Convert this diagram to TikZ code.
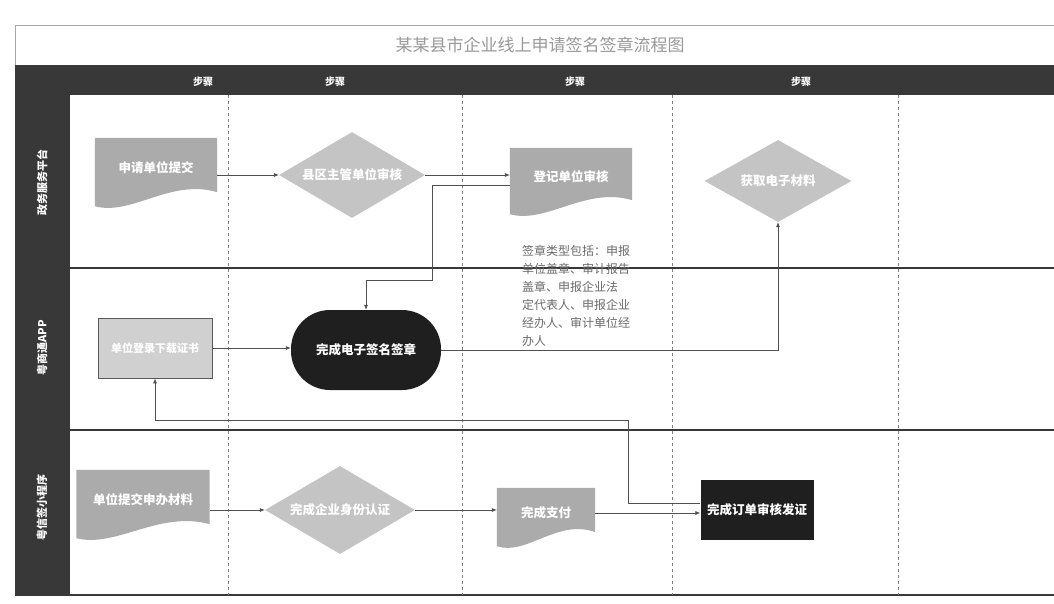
\documentclass[tikz,border=0pt]{standalone}
\usepackage{fontspec}
\setmainfont{Noto Sans CJK SC}
\usetikzlibrary{shapes.geometric,backgrounds,calc,arrows.meta}
\definecolor{bandgray}{HTML}{383838}
\definecolor{docgray}{HTML}{ABABAB}
\definecolor{diagray}{HTML}{C4C4C4}
\definecolor{boxgray}{HTML}{D0D0D0}
\definecolor{inkgray}{HTML}{505050}
\definecolor{notegray}{HTML}{6A6A6A}
% wavy document shape behind a named node
\newcommand{\docfill}[1]{%
  \begin{scope}[on background layer]
  \fill[docgray] (#1.north west) -- (#1.north east) -- ($(#1.south east)+(0,-6)$)
    .. controls ($(#1.south west)!.62!(#1.south east)+(0,-20)$) and ($(#1.south west)!.3!(#1.south east)+(0,18)$) .. ($(#1.south west)+(0,8)$) -- cycle;
  \end{scope}}
\begin{document}
\begin{tikzpicture}[x=1pt,y=-1pt,
  boxtext/.style={text=white, font=\fontsize{12.5}{14}\selectfont\bfseries},
  docbox/.style={boxtext, minimum width=122pt, minimum height=60pt, inner sep=0pt},
  diabox/.style={boxtext, diamond, fill=diagray, minimum width=146pt, minimum height=86pt, aspect=1.7, inner sep=0pt},
  flow/.style={draw=inkgray, line width=0.6pt, -{Latex[length=5pt,width=4pt]}},
  plain/.style={draw=inkgray, line width=0.6pt}]
\useasboundingbox (0,0) rectangle (1054,603);
% frame, header and lanes
\begin{scope}[on background layer]
\draw[gray!70] (15,65) -- (15,25) -- (1054,25);
\fill[bandgray] (15,65) rectangle (1054,95);
\fill[bandgray] (15,95) rectangle (70,595);
\draw[bandgray, line width=1.3pt] (70,268) -- (1054,268);
\draw[bandgray, line width=1.3pt] (70,430) -- (1054,430);
\draw[bandgray, line width=1.3pt] (15,595) -- (1054,595);
\foreach \x in {228,462,672,898}
  \draw[gray, dashed] (\x,95) -- (\x,595);
\end{scope}
\node[text=gray!80, font=\fontsize{17}{19}\selectfont] (title) at (540,45) {某某县市企业线上申请签名签章流程图};
\foreach \x [count=\i] in {203,335,575,801}
  \node[text=white, font=\fontsize{10}{12}\selectfont\bfseries] (hd\i) at (\x,82) {步骤};
\node[text=white, rotate=90, font=\fontsize{11}{13}\selectfont\bfseries] (ln0) at (42,182) {政务服务平台};
\node[text=white, rotate=90, font=\fontsize{11}{13}\selectfont\bfseries] (ln1) at (42,348) {粤商通APP};
\node[text=white, rotate=90, font=\fontsize{11}{13}\selectfont\bfseries] (ln2) at (42,507) {粤信签小程序};
% lane 1
\node[docbox] (st0) at (156,168) {申请单位提交};
\docfill{st0}
\node[diabox] (st1) at (352,175) {县区主管单位审核};
\node[docbox, minimum height=58pt] (st2) at (571,177) {登记单位审核};
\docfill{st2}
\node[diabox, minimum width=147pt, minimum height=82pt] (st3) at (778,181) {获取电子材料};
\node[anchor=north west, text=notegray, align=left, inner sep=0pt, font=\fontsize{12}{18}\selectfont] (st4) at (522,245)
  {签章类型包括：申报\\单位盖章、审计报告\\盖章、申报企业法\\定代表人、申报企业\\经办人、审计单位经\\办人};
% lane 2
\node[boxtext, font=\fontsize{11}{13}\selectfont\bfseries, fill=boxgray, draw=gray!130, line width=0.8pt, minimum width=114pt, minimum height=60pt, inner sep=0pt] (st5) at (155,348) {单位登录下载证书};
\node[boxtext, fill=black!88, rounded corners=39pt, minimum width=150pt, minimum height=80pt] (st6) at (366,350) {完成电子签名签章};
% lane 3
\node[docbox, minimum width=133pt] (st7) at (143,500) {单位提交申办材料};
\docfill{st7}
\node[diabox, minimum width=150pt, minimum height=88pt] (st8) at (340,510) {完成企业身份认证};
\node[docbox, minimum width=98pt, minimum height=50pt] (st9) at (546,513) {完成支付};
\docfill{st9}
\node[boxtext, fill=black!88, minimum width=113pt, minimum height=60pt] (st10) at (757,510) {完成订单审核发证};
% bends
\coordinate (k0) at (432,280);
\coordinate (k1) at (628,420);
% connectors
\draw[flow] (st0.east |- st1.west) -- (st1.west);
\draw[flow] (st1.east) -- (st1.east -| st2.west);
\draw[flow] ($(st2.west)+(0,8)$) -| (k0) -| (st6.north);
\draw[flow] (st5.east) -- (st5.east -| st6.west);
\draw[flow] (st6.east) -| (st3.south);
\draw[flow] (st7.east |- st8.west) -- (st8.west);
\draw[flow] (st8.east) -- (st8.east -| st9.west);
\draw[flow] (st9.east) -- (st9.east -| st10.west);
\draw[flow] ($(st10.west)+(0,-7)$) -| (k1) -| (st5.south);
\end{tikzpicture}
\end{document}
